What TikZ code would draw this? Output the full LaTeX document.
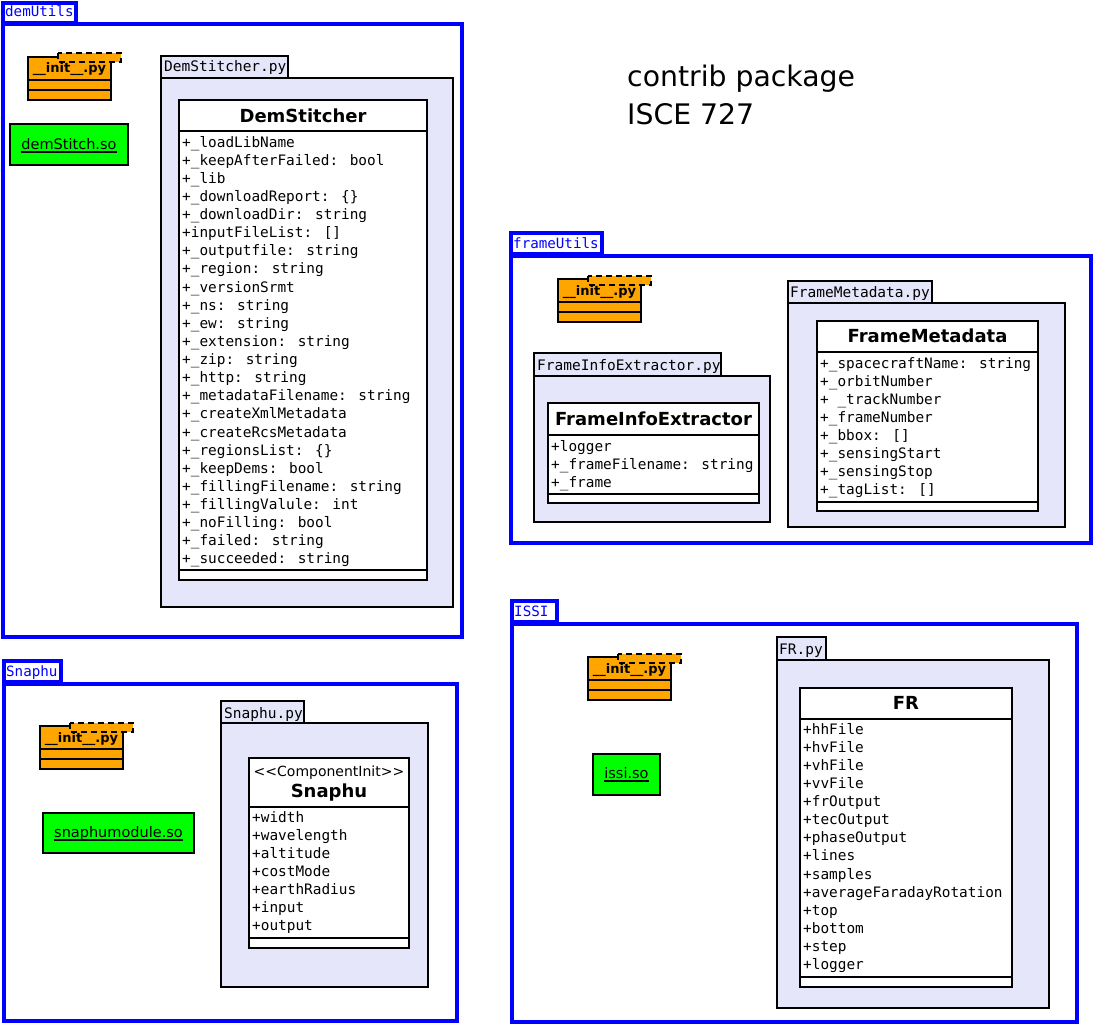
\documentclass[tikz,border=0pt]{standalone}
\usepackage{fontspec}
\usetikzlibrary{calc}
\setmainfont{DejaVu Sans}
\newfontfamily\monof{DejaVu Sans Mono}
\definecolor{lav}{RGB}{230,230,250}
\definecolor{orng}{RGB}{255,165,0}
\definecolor{grn}{RGB}{0,255,0}
\tikzset{
 pkgline/.style={draw=blue, line width=3.5pt, fill=white},
 pkglabel/.style={text=blue, font=\monof\fontsize{14.2}{16}\selectfont, inner sep=0pt, anchor=base west},
 modbox/.style={draw=black, line width=2pt, fill=lav},
 modlabel/.style={font=\monof\fontsize{14.5}{16}\selectfont, inner sep=0pt, anchor=base west},
 classbox/.style={draw=black, line width=2pt, fill=white},
 classname/.style={font=\bfseries\fontsize{18}{20}\selectfont, inner sep=0pt, anchor=base},
 stereo/.style={font=\fontsize{14}{16}\selectfont, inner sep=0pt, anchor=base},
 attr/.style={font=\monof\fontsize{14.4}{16}\selectfont, inner sep=0pt, anchor=base west},
 initbox/.style={draw=black, line width=2pt, fill=orng},
 initdash/.style={draw=black, line width=2pt, fill=orng, dash pattern=on 6pt off 4pt},
 initlabel/.style={font=\bfseries\fontsize{13}{15}\selectfont, inner sep=0pt, anchor=base},
 artbox/.style={draw=black, line width=2pt, fill=grn},
 artlabel/.style={font=\fontsize{14.5}{16}\selectfont, inner sep=0pt, anchor=base},
 uline/.style={line width=1.3pt},
 title/.style={font=\fontsize{28.3}{32}\selectfont, inner sep=0pt, anchor=base west},
}
\newcommand\classframe[6]{% x1,y1,x2,header bottom,attrs bottom,y2
 \draw[classbox] (#1,#2) rectangle (#3,#6);
 \draw[line width=2pt] (#1,#4) -- (#3,#4);
 \draw[line width=2pt] (#1,#5) -- (#3,#5);
}
\newcommand\attrlist[4]{% name, x, first baseline, list
 \foreach \t [count=\i from 0] in {#4} {\node[attr] (#1-\i) at (#2,{#3+18.13*\i}) {\t};}
}
\newcommand\initicon[3]{% name, x, y
 \draw[initbox] (#2,#3) rectangle ++(83,43);
 \draw[line width=2pt] (#2,#3+23) -- ++(83,0);
 \draw[line width=2pt] (#2,#3+33) -- ++(83,0);
 \draw[initdash] (#2+30,#3-3.5) rectangle (#2+93,#3+5.5);
 \node[initlabel] (#1) at (#2+41.5,#3+16) {\_\_init\_\_.py};
}
\newcommand\underl[1]{\draw[uline] ($(#1.base west)+(0,3)$) -- ($(#1.base east)+(0,3)$);}
\begin{document}
\begin{tikzpicture}[x=1pt,y=-1pt]
\useasboundingbox (0,0) rectangle (1095,1025);

% title
\node[title] (title1) at (627,86) {contrib package};
\node[title] (title2) at (627,124) {ISCE 727};

% ================= demUtils =================
\draw[pkgline] (3,3) rectangle (76,23);
\draw[pkgline] (3,24) rectangle (462,637);
\node[pkglabel] (demUtils) at (5,17) {demUtils};
\initicon{demInit}{28}{57}
\draw[artbox] (10,124) rectangle (128,165);
\node[artlabel] (demSo) at (69,149) {demStitch.so};
\underl{demSo}
% module
\draw[modbox] (161,56) rectangle (288,78);
\node[modlabel] (demMod) at (164,72) {DemStitcher.py};
\draw[modbox] (161,78) rectangle (453,607);
\classframe{179}{100}{427}{131}{570}{580}
\node[classname] (demCls) at (303,122) {DemStitcher};
\attrlist{demA}{182}{147}{+\_loadLibName,+\_keepAfterFailed: bool,+\_lib,+\_downloadReport: \{\},+\_downloadDir: string,+inputFileList: [],+\_outputfile: string,+\_region: string,+\_versionSrmt,+\_ns: string,+\_ew: string,+\_extension: string,+\_zip: string,+\_http: string,+\_metadataFilename: string,+\_createXmlMetadata,+\_createRcsMetadata,+\_regionsList: \{\},+\_keepDems: bool,+\_fillingFilename: string,+\_fillingValule: int,+\_noFilling: bool,+\_failed: string,+\_succeeded: string}

% ================= frameUtils =================
\draw[pkgline] (511,233) rectangle (602,254);
\draw[pkgline] (511,256) rectangle (1091,543);
\node[pkglabel] (frameUtils) at (513,248) {frameUtils};
\initicon{frInit}{558}{279}
% FrameInfoExtractor
\draw[modbox] (534,353) rectangle (721,376);
\node[modlabel] (fieMod) at (537,370) {FrameInfoExtractor.py};
\draw[modbox] (534,376) rectangle (770,522);
\classframe{548}{403}{759}{435}{494}{503}
\node[classname] (fieCls) at (653.5,425) {FrameInfoExtractor};
\attrlist{fieA}{551}{451}{+logger,+\_frameFilename: string,+\_frame}
% FrameMetadata
\draw[modbox] (788,281) rectangle (932,303);
\node[modlabel] (fmMod) at (790,297) {FrameMetadata.py};
\draw[modbox] (788,303) rectangle (1065,527);
\classframe{817}{321}{1038}{352}{502}{511}
\node[classname] (fmCls) at (927.5,342) {FrameMetadata};
\attrlist{fmA}{820}{368}{+\_spacecraftName: string,+\_orbitNumber,+ \_trackNumber,+\_frameNumber,+\_bbox: [],+\_sensingStart,+\_sensingStop,+\_tagList: []}

% ================= Snaphu =================
\draw[pkgline] (4,661) rectangle (61,682);
\draw[pkgline] (4,684) rectangle (457,1021);
\node[pkglabel] (snaphuPkg) at (6,676) {Snaphu};
\initicon{snInit}{40}{726}
\draw[artbox] (43,813) rectangle (194,853);
\node[artlabel] (snSo) at (118.5,837) {snaphumodule.so};
\underl{snSo}
\draw[modbox] (221,701) rectangle (304,723);
\node[modlabel] (snMod) at (224,718) {Snaphu.py};
\draw[modbox] (221,723) rectangle (428,987);
\classframe{249}{758}{409}{807}{938}{948}
\node[stereo] (snSt) at (329,776) {<{}<ComponentInit>{}>};
\node[classname] (snCls) at (329,797) {Snaphu};
\attrlist{snA}{252}{822}{+width,+wavelength,+altitude,+costMode,+earthRadius,+input,+output}

% ================= ISSI =================
\draw[pkgline] (512,601) rectangle (557,622);
\draw[pkgline] (512,624) rectangle (1077,1022);
\node[pkglabel] (issiPkg) at (514,616) {ISSI};
\initicon{isInit}{588}{657}
\draw[artbox] (593,754) rectangle (660,795);
\node[artlabel] (isSo) at (626.5,778) {issi.so};
\underl{isSo}
\draw[modbox] (777,637) rectangle (826,660);
\node[modlabel] (frMod) at (779,654) {FR.py};
\draw[modbox] (777,660) rectangle (1049,1008);
\classframe{800}{688}{1012}{719}{977}{987}
\node[classname] (frCls) at (906,709) {FR};
\attrlist{frA}{803}{734}{+hhFile,+hvFile,+vhFile,+vvFile,+frOutput,+tecOutput,+phaseOutput,+lines,+samples,+averageFaradayRotation,+top,+bottom,+step,+logger}
\end{tikzpicture}
\end{document}
